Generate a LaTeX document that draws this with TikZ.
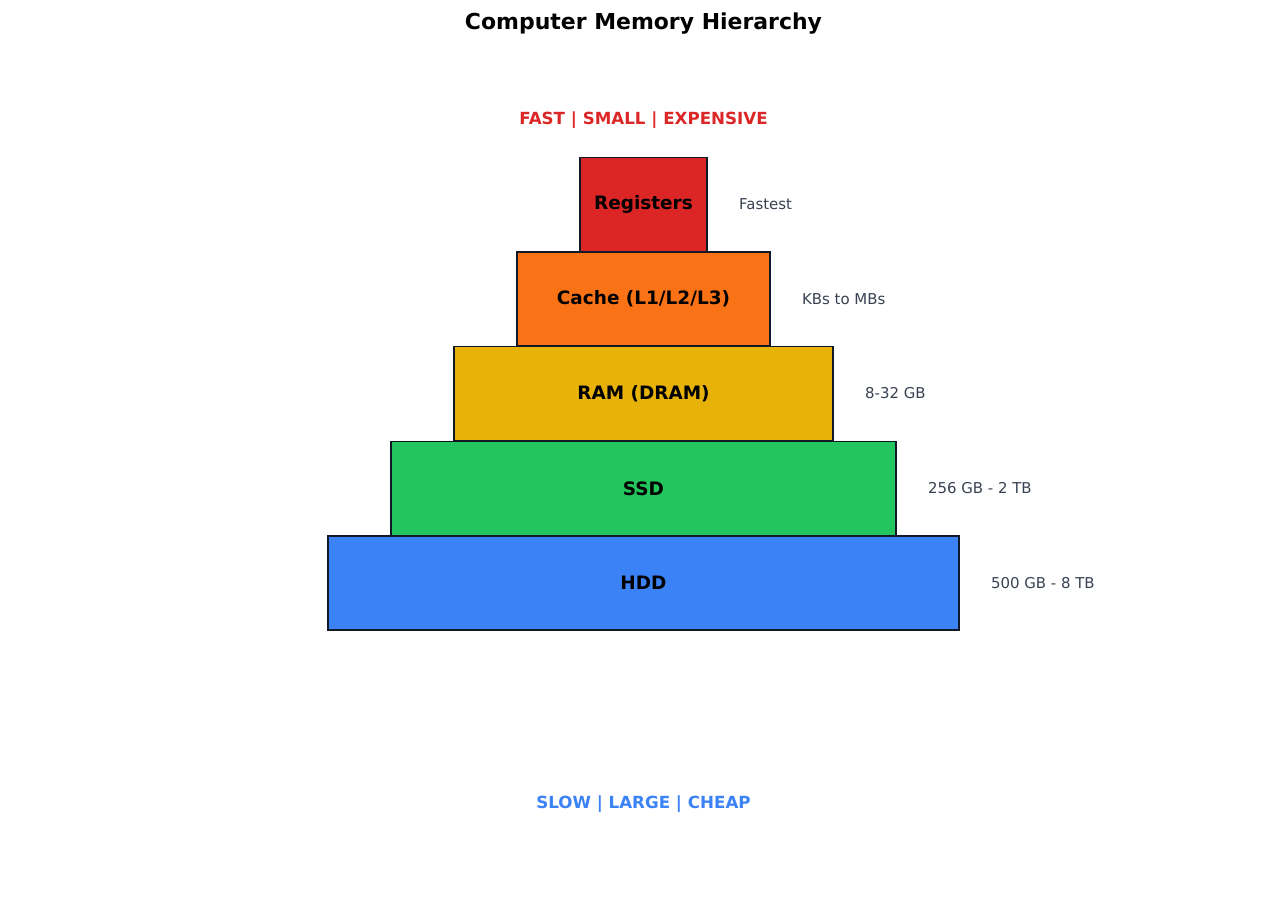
\documentclass[tikz,border=0pt]{standalone}
\usepackage{fontspec}
\setmainfont{DejaVu Sans}
\usetikzlibrary{positioning}
\definecolor{regred}{HTML}{DC2626}
\definecolor{cacheorange}{HTML}{F97316}
\definecolor{ramyellow}{HTML}{E8B308}
\definecolor{ssdgreen}{HTML}{22C55E}
\definecolor{hddblue}{HTML}{3B82F6}
\definecolor{edgenavy}{HTML}{111827}
\definecolor{notegray}{HTML}{374151}
\begin{document}
\begin{tikzpicture}[x=0.02cm, y=-0.02cm]
	\tikzstyle{level}=[rectangle, draw=edgenavy, line width=1.1pt,
	inner sep=0pt, minimum height=0.02cm*94, font=\fontsize{10.5}{12}\selectfont\bfseries]
	\tikzstyle{note}=[anchor=west, text=notegray, font=\fontsize{8.5}{10}\selectfont]
	
	\useasboundingbox (0,0) rectangle (1287,896);
	
	\node[font=\fontsize{12.5}{14}\selectfont\bfseries] at (643.5,24) (title) {Computer Memory Hierarchy};
	\node[text=regred, font=\fontsize{9.5}{11}\selectfont\bfseries] at (643.5,120) (fast) {FAST | SMALL | EXPENSIVE};
	\node[text=hddblue, font=\fontsize{9.5}{11}\selectfont\bfseries] at (643.5,804) (slow) {SLOW | LARGE | CHEAP};
	
	\node[level, fill=regred, minimum width=0.02cm*127] at (643.5,204.5) (reg) {Registers};
	\node[level, fill=cacheorange, minimum width=0.02cm*253] at (643.5,299) (cache) {Cache (L1/L2/L3)};
	\node[level, fill=ramyellow, minimum width=0.02cm*379] at (643.5,393.5) (ram) {RAM (DRAM)};
	\node[level, fill=ssdgreen, minimum width=0.02cm*505] at (643.5,488.5) (ssd) {SSD};
	\node[level, fill=hddblue, minimum width=0.02cm*631] at (643.5,583) (hdd) {HDD};
	
	\node[note, right=0.02cm*25 of reg] (regnote) {Fastest};
	\node[note, right=0.02cm*25 of cache] (cachenote) {KBs to MBs};
	\node[note, right=0.02cm*25 of ram] (ramnote) {8-32 GB};
	\node[note, right=0.02cm*25 of ssd] (ssdnote) {256 GB - 2 TB};
	\node[note, right=0.02cm*25 of hdd] (hddnote) {500 GB - 8 TB};
\end{tikzpicture}
\end{document}
